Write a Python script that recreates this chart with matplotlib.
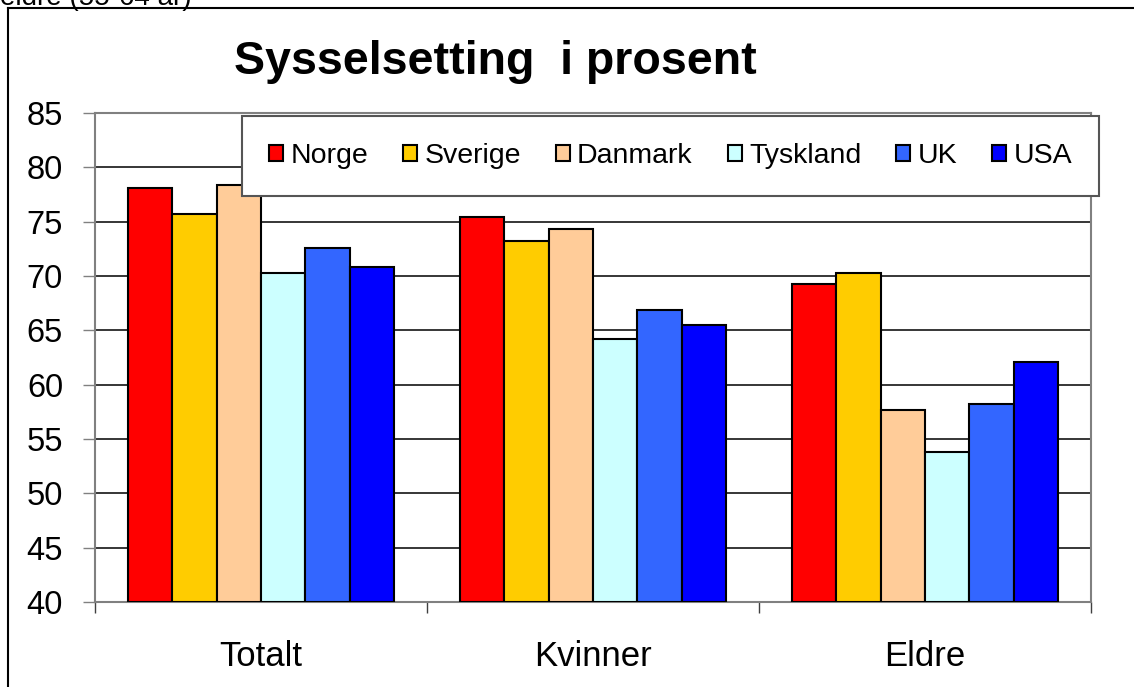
import numpy as np
import matplotlib.pyplot as plt
from matplotlib.lines import Line2D

plt.rcParams['font.family'] = ['Liberation Sans', 'DejaVu Sans']

categories = ['Totalt', 'Kvinner', 'Eldre']
countries = ['Norge', 'Sverige', 'Danmark', 'Tyskland', 'UK', 'USA']
colors = ['#FF0000', '#FFCC00', '#FFCC99', '#CCFFFF', '#3366FF', '#0000FF']

norge = [78.1, 75.4, 69.3]
sverige = [75.7, 73.2, 70.3]
danmark = [78.4, 74.3, 57.7]
tyskland = [70.3, 64.2, 53.8]
uk = [72.6, 66.9, 58.2]
usa = [70.8, 65.5, 62.1]
series = [norge, sverige, danmark, tyskland, uk, usa]

W, H = 1134, 687
fig = plt.figure(figsize=(W / 100, H / 100), dpi=100)
ax = fig.add_axes([95 / W, 1 - 602 / H, 996 / W, 489 / H])

x = np.arange(len(categories))
bw = 0.134
bars = []
for i, (vals, c, name) in enumerate(zip(series, colors, countries)):
    b = ax.bar(x + (i - 2.5) * bw, np.array(vals) - 40, bw, bottom=40,
               color=c, edgecolor='black', linewidth=1.5, label=name, zorder=3)
    bars.append(b)

ax.set_xlim(-0.5, 2.5)
ax.set_ylim(40, 85)
ax.set_yticks(np.arange(40, 86, 5))
ax.yaxis.grid(True, color='black', linewidth=1.1, zorder=0)
ax.tick_params(axis='y', direction='out', length=9, width=1, color='#808080',
               labelsize=23.5, pad=14)

# category boundaries as ticks, names as minor ticks
ax.set_xticks([-0.5, 0.5, 1.5, 2.5])
ax.set_xticklabels([])
ax.tick_params(axis='x', which='major', direction='out', length=8, width=1, color='#404040')
ax.set_xticks(x, minor=True)
ax.set_xticklabels(categories, minor=True)
ax.tick_params(axis='x', which='minor', length=0, labelsize=25, pad=27)

for s in ax.spines.values():
    s.set_color('#808080')
    s.set_linewidth(1.5)

leg = fig.legend(handles=bars, labels=countries, ncol=6, loc='center',
                 bbox_to_anchor=(242 / W, 1 - 197 / H, 857 / W, 82 / H), mode='expand',
                 fontsize=20.5, frameon=True, fancybox=False, edgecolor='#555555',
                 facecolor='white', framealpha=1, borderpad=0.95, borderaxespad=0,
                 handlelength=0.5, handleheight=0.5, handletextpad=0.25,
                 columnspacing=1.2)
leg.get_frame().set_linewidth(1.5)

fig.text(495 / W, 1 - 62 / H, 'Sysselsetting  i prosent', ha='center', va='center',
         fontsize=33.5, fontweight='bold')

# cut-off text from the slide above
fig.text(0 / W, 1 - 5 / H, 'eldre (55-64 år)', ha='left', va='baseline', fontsize=20)

# outer frame
fig.add_artist(Line2D([8 / W, 1.0], [1 - 8 / H, 1 - 8 / H], color='black', lw=1.5))
fig.add_artist(Line2D([8 / W, 8 / W], [1 - 8 / H, 0], color='black', lw=1.5))

fig.savefig('out.png', dpi=100)
